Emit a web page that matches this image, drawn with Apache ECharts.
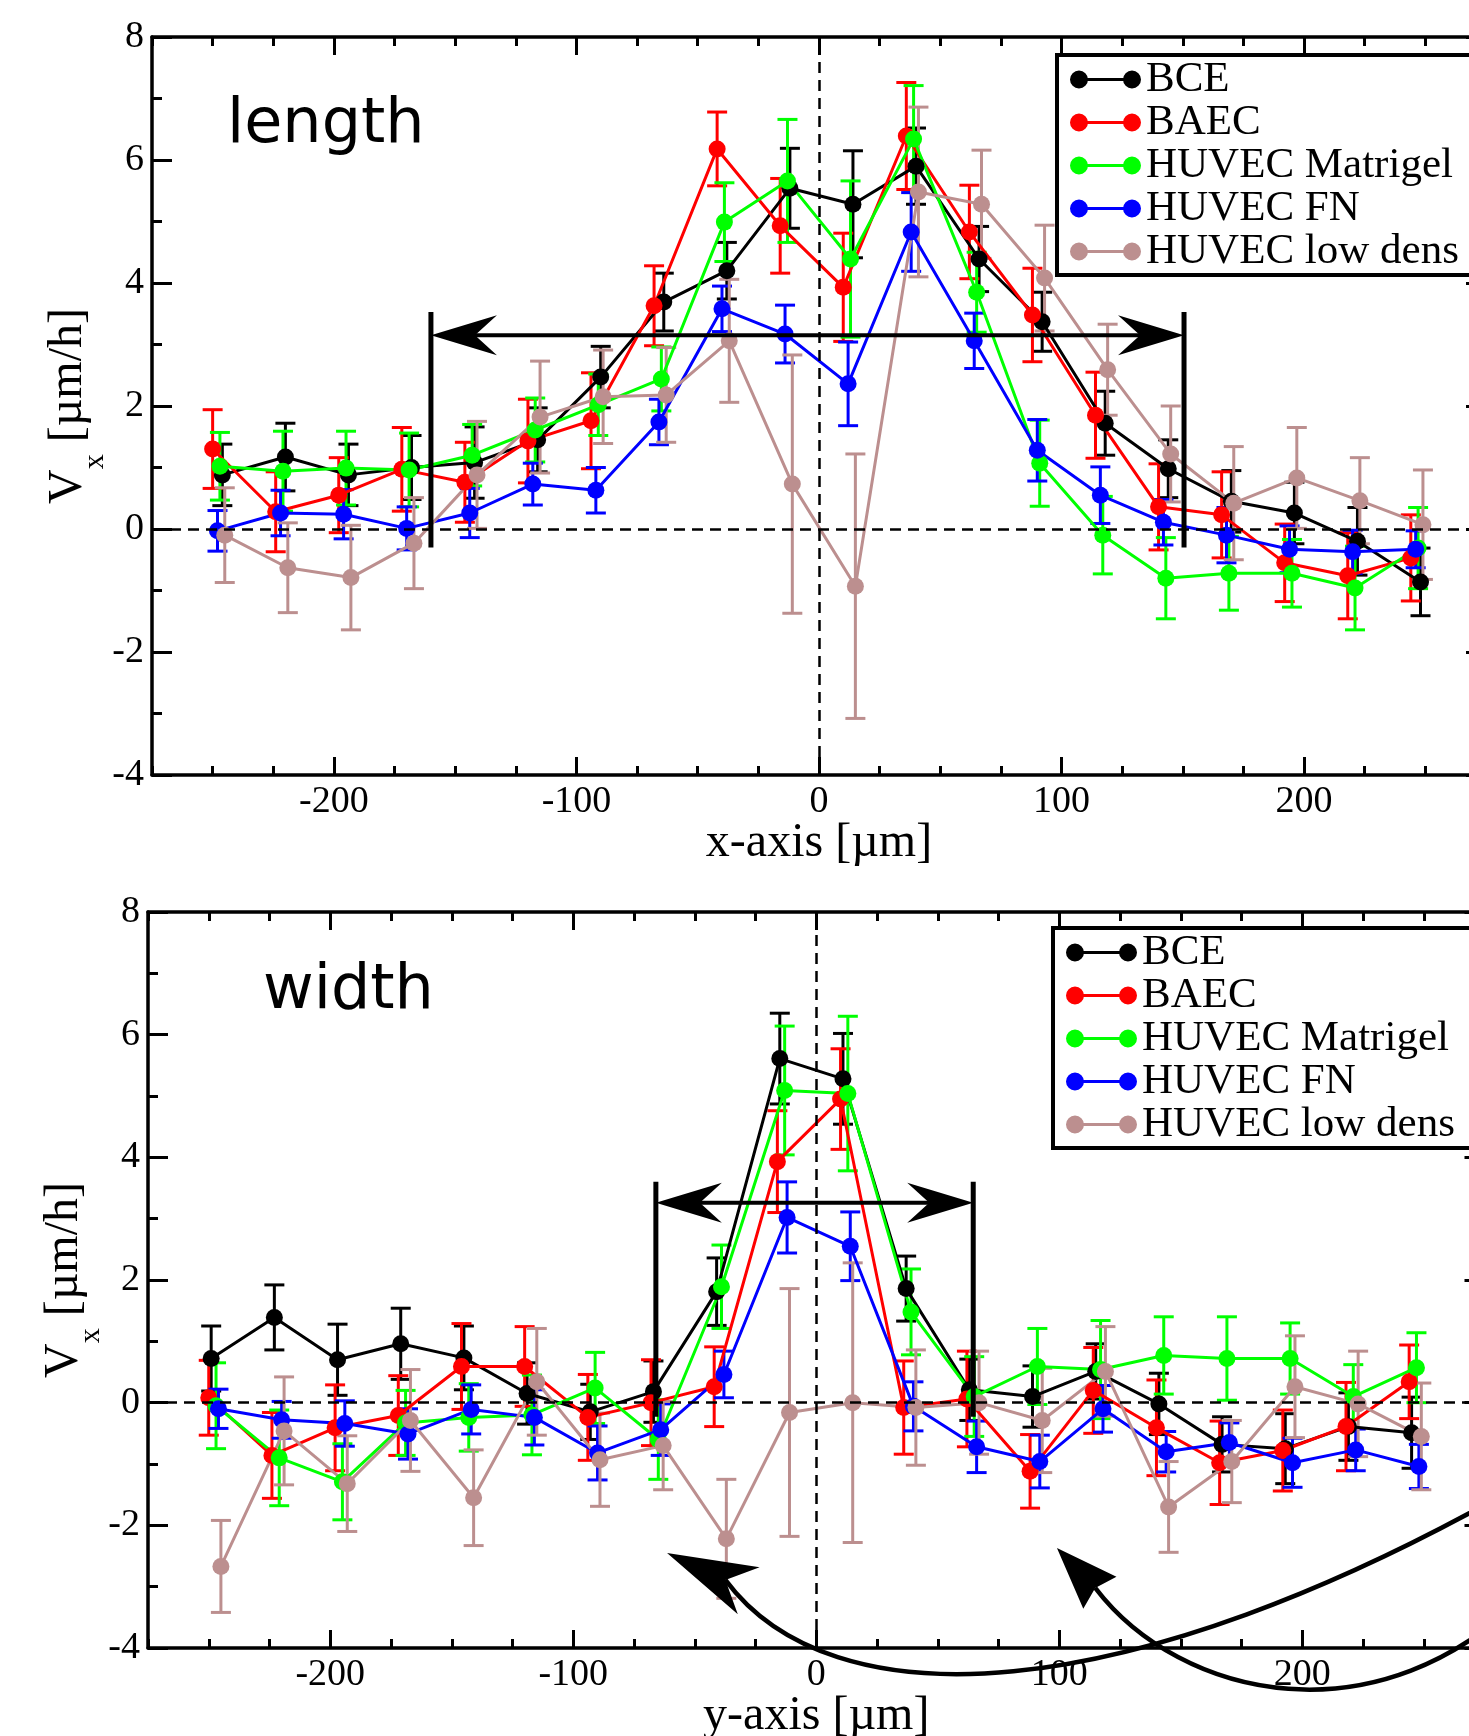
<!DOCTYPE html>
<html>
<head>
<meta charset="utf-8">
<script src="https://cdn.jsdelivr.net/npm/echarts@6/dist/echarts.min.js"></script>
<style>
  html, body { margin: 0; padding: 0; background: #fff; }
  #lengthChart { position: absolute; left: 0; top: 0; width: 1469px; height: 868px; }
  #widthChart { position: absolute; left: 0; top: 868px; width: 1469px; height: 868px; }
</style>
</head>
<body>
<div id="lengthChart"></div>
<div id="widthChart"></div>
<script>
var seriesNames = ['BCE', 'BAEC', 'HUVEC Matrigel', 'HUVEC FN', 'HUVEC low dens'];
var seriesColors = ['#000000', '#ff0000', '#00ff00', '#0000ff', '#bc8f8f'];
var binCenters = [-247, -221, -195, -169, -143, -117, -91, -65, -39, -13, 13, 39, 65, 91, 117, 143, 169, 195, 221, 247];
var xTickValues = [-200, -100, 0, 100, 200];

// small horizontal offset of each data set (BCE, BAEC, Matrigel, FN, low dens)
var lengthShift = [1, -3, 0, -1, 2];
var widthShift = [-2, -3, 0, 1, 2];

// length (x-axis) panel
var lengthBCE = [0.88, 1.17, 0.88, 1.00, 1.08, 1.45, 2.47, 3.69, 4.20, 5.54, 5.28, 5.90, 4.39, 3.37, 1.72, 0.98, 0.45, 0.26, -0.20, -0.86];
var lengthBCEErr = [0.50, 0.55, 0.50, 0.52, 0.58, 0.52, 0.50, 0.47, 0.46, 0.65, 0.87, 0.62, 0.53, 0.48, 0.52, 0.47, 0.50, 0.50, 0.55, 0.55];
var lengthBAEC = [1.30, 0.28, 0.55, 0.97, 0.76, 1.43, 1.76, 3.63, 6.18, 4.93, 3.93, 6.39, 4.83, 3.48, 1.85, 0.36, 0.23, -0.55, -0.76, -0.47];
var lengthBAECErr = [0.64, 0.65, 0.61, 0.68, 0.65, 0.68, 0.78, 0.65, 0.60, 0.77, 0.88, 0.87, 0.76, 0.76, 0.70, 0.70, 0.70, 0.63, 0.70, 0.70];
var lengthMatrigel = [1.02, 0.94, 0.99, 0.96, 1.20, 1.61, 2.02, 2.44, 4.99, 5.66, 4.39, 6.34, 3.85, 1.07, -0.10, -0.80, -0.72, -0.72, -0.96, -0.31];
var lengthMatrigelErr = [0.55, 0.65, 0.60, 0.60, 0.50, 0.52, 0.50, 0.52, 0.64, 1.00, 1.27, 0.87, 0.65, 0.70, 0.63, 0.66, 0.60, 0.55, 0.68, 0.66];
var lengthFN = [-0.03, 0.26, 0.24, 0.01, 0.26, 0.73, 0.63, 1.74, 3.58, 3.17, 2.36, 4.83, 3.06, 1.28, 0.55, 0.11, -0.10, -0.33, -0.37, -0.33];
var lengthFNErr = [0.33, 0.37, 0.40, 0.35, 0.40, 0.34, 0.37, 0.37, 0.37, 0.47, 0.68, 0.64, 0.45, 0.50, 0.46, 0.37, 0.45, 0.38, 0.35, 0.30];
var lengthLow = [-0.10, -0.63, -0.79, -0.23, 0.88, 1.82, 2.15, 2.18, 3.06, 0.73, -0.93, 5.48, 5.28, 4.08, 2.59, 1.22, 0.42, 0.83, 0.46, 0.07];
var lengthLowErr = [0.77, 0.73, 0.85, 0.74, 0.87, 0.91, 0.76, 0.77, 1.00, 2.10, 2.15, 1.38, 0.88, 0.86, 0.74, 0.78, 0.92, 0.82, 0.70, 0.89];

// width (y-axis) panel
var widthBCE = [0.72, 1.39, 0.70, 0.96, 0.73, 0.15, -0.15, 0.18, 1.81, 5.61, 5.28, 1.86, 0.21, 0.10, 0.51, -0.02, -0.68, -0.75, -0.39, -0.49];
var widthBCEErr = [0.53, 0.53, 0.58, 0.58, 0.52, 0.50, 0.45, 0.50, 0.55, 0.74, 0.74, 0.53, 0.50, 0.50, 0.45, 0.50, 0.45, 0.57, 0.55, 0.58];
var widthBAEC = [0.08, -0.86, -0.41, -0.21, 0.59, 0.59, -0.24, 0.00, 0.26, 3.93, 4.95, -0.08, 0.06, -1.12, 0.20, -0.41, -0.98, -0.78, -0.39, 0.34];
var widthBAECErr = [0.61, 0.70, 0.70, 0.65, 0.70, 0.65, 0.70, 0.70, 0.65, 0.83, 0.82, 0.76, 0.78, 0.60, 0.70, 0.78, 0.68, 0.66, 0.72, 0.60];
var widthMatrigel = [-0.05, -0.90, -1.29, -0.33, -0.24, -0.20, 0.24, -0.60, 1.89, 5.09, 5.04, 1.48, 0.10, 0.59, 0.54, 0.77, 0.72, 0.72, 0.10, 0.57];
var widthMatrigelErr = [0.70, 0.78, 0.62, 0.53, 0.55, 0.65, 0.58, 0.65, 0.68, 1.05, 1.26, 0.70, 0.65, 0.62, 0.80, 0.63, 0.68, 0.58, 0.52, 0.57];
var widthFN = [-0.10, -0.28, -0.34, -0.51, -0.11, -0.24, -0.82, -0.44, 0.46, 3.02, 2.55, -0.06, -0.72, -0.96, -0.10, -0.80, -0.65, -0.98, -0.77, -1.04];
var widthFNErr = [0.32, 0.30, 0.37, 0.41, 0.40, 0.45, 0.44, 0.42, 0.38, 0.58, 0.56, 0.40, 0.42, 0.43, 0.38, 0.33, 0.32, 0.40, 0.34, 0.36];
var widthLow = [-2.67, -0.46, -1.32, -0.29, -1.55, 0.34, -0.93, -0.70, -2.22, -0.16, 0.00, -0.08, 0.00, -0.29, 0.51, -1.70, -0.96, 0.26, -0.02, -0.55];
var widthLowErr = [0.75, 0.88, 0.78, 0.83, 0.78, 0.87, 0.76, 0.72, 0.97, 2.02, 2.28, 0.94, 0.84, 0.85, 0.73, 0.74, 0.67, 0.83, 0.86, 0.87];

var serif = 'Liberation Serif';
var legendIcon = 'path://M0,9A9,9,0,1,1,18,9A9,9,0,1,1,0,9ZM17,7.6L54,7.6L54,10.4L17,10.4ZM53,9A9,9,0,1,1,71,9A9,9,0,1,1,53,9Z';

function errorBarItem(params, api) {
  var x = api.value(0);
  var top = api.coord([x, api.value(2)]);
  var bottom = api.coord([x, api.value(1)]);
  var cap = 10;
  var style = { stroke: api.visual('color'), lineWidth: 3 };
  return {
    type: 'group',
    children: [
      { type: 'line', shape: { x1: top[0], y1: top[1], x2: bottom[0], y2: bottom[1] }, style: style },
      { type: 'line', shape: { x1: top[0] - cap, y1: top[1], x2: top[0] + cap, y2: top[1] }, style: style },
      { type: 'line', shape: { x1: bottom[0] - cap, y1: bottom[1], x2: bottom[0] + cap, y2: bottom[1] }, style: style }
    ]
  };
}

function xAxes(name) {
  var line = { show: true, onZero: false, lineStyle: { color: '#000', width: 3.5 } };
  var tickStyle = { color: '#000', width: 3 };
  var major = { type: 'value', min: -275, max: 275, splitLine: { show: false }, axisLine: line,
    axisTick: { show: true, inside: true, length: 18, customValues: xTickValues, lineStyle: tickStyle } };
  var minor = { type: 'value', min: -275, max: 275, interval: 25, splitLine: { show: false },
    axisLine: { show: false, onZero: false }, axisLabel: { show: false },
    axisTick: { show: true, inside: true, length: 9, lineStyle: tickStyle } };
  return [
    Object.assign({}, major, {
      position: 'bottom', name: name, nameLocation: 'middle', nameGap: 44, nameMoveOverlap: false,
      nameTextStyle: { fontFamily: serif, fontSize: 48, color: '#000' },
      axisLabel: { show: true, customValues: xTickValues, margin: 8, fontFamily: serif, fontSize: 38, color: '#000' }
    }),
    Object.assign({}, minor, { position: 'bottom' }),
    Object.assign({}, major, { position: 'top', axisLabel: { show: false } }),
    Object.assign({}, minor, { position: 'top' })
  ];
}

function yAxes() {
  var base = {
    type: 'value', min: -4, max: 8, interval: 2, splitLine: { show: false },
    axisLine: { show: true, onZero: false, lineStyle: { color: '#000', width: 3.5 } },
    axisTick: { show: true, inside: true, length: 20, lineStyle: { color: '#000', width: 3 } },
    minorTick: { show: true, splitNumber: 2, length: 10, lineStyle: { color: '#000', width: 3 } }
  };
  return [
    Object.assign({}, base, {
      position: 'left', name: '{v|V}{s|x} [µm/h]', nameLocation: 'middle', nameRotate: 90,
      nameGap: 42, nameMoveOverlap: false,
      nameTextStyle: {
        fontFamily: serif, fontSize: 48, color: '#000',
        rich: {
          v: { fontFamily: serif, fontSize: 48, color: '#000' },
          s: { fontFamily: serif, fontSize: 30, color: '#000', padding: [53, 0, 0, 0] }
        }
      },
      axisLabel: { margin: 8, padding: [8, 0, 0, 0], fontFamily: serif, fontSize: 38, color: '#000' }
    }),
    Object.assign({}, base, { position: 'right', axisLabel: { show: false } })
  ];
}

function buildOption(cfg) {
  var series = [{
    name: 'zero lines', type: 'line', data: [], silent: true, z: 1,
    markLine: {
      silent: true, symbol: ['none', 'none'], label: { show: false }, animation: false,
      lineStyle: { color: '#000', width: 2.5, type: [11, 7] },
      data: [{ yAxis: 0 }, { xAxis: 0 }]
    }
  }];
  seriesNames.forEach(function (name, i) {
    var vals = cfg.values[i], errs = cfg.errors[i];
    var xs = binCenters.map(function (b) { return b + cfg.shift[i]; });
    series.push({
      name: name + ' error', type: 'custom', renderItem: errorBarItem, silent: true, z: 2,
      itemStyle: { color: seriesColors[i] }, encode: { x: 0, y: [1, 2] },
      data: xs.map(function (x, k) { return [x, vals[k] - errs[k], vals[k] + errs[k]]; })
    });
    series.push({
      name: name, type: 'line', z: 2, silent: true, symbol: 'circle', symbolSize: 17,
      lineStyle: { color: seriesColors[i], width: 3 }, itemStyle: { color: seriesColors[i] },
      data: xs.map(function (x, k) { return [x, vals[k]]; })
    });
  });
  return {
    animation: false,
    backgroundColor: '#fff',
    title: {
      text: cfg.label, left: cfg.labelLeft, top: cfg.labelTop, padding: 0,
      textStyle: { fontFamily: 'DejaVu Sans', fontSize: 62, fontWeight: 'normal', color: '#000' }
    },
    legend: {
      data: seriesNames, orient: 'vertical', left: cfg.legendLeft, top: cfg.legendTop,
      padding: [3, 40, 2, 13], itemGap: 0, itemWidth: 71, itemHeight: 18, icon: legendIcon,
      itemStyle: { borderWidth: 0 }, selectedMode: false,
      backgroundColor: '#fff', borderColor: '#000', borderWidth: 4,
      textStyle: { fontFamily: serif, fontSize: 43, lineHeight: 42, color: '#000' }
    },
    grid: Object.assign({ outerBoundsMode: 'none', containLabel: false }, cfg.grid),
    xAxis: xAxes(cfg.xName),
    yAxis: yAxes(),
    series: series
  };
}

// arrowhead polygon: tip point, unit direction pointing back along the shaft
function arrowHead(tip, dir, len, half, notch) {
  var nx = -dir[1], ny = dir[0];
  return [
    tip,
    [tip[0] + dir[0] * len + nx * half, tip[1] + dir[1] * len + ny * half],
    [tip[0] + dir[0] * notch, tip[1] + dir[1] * notch],
    [tip[0] + dir[0] * len - nx * half, tip[1] + dir[1] * len - ny * half]
  ];
}

function annotations(chart, span, curves) {
  var px = function (p) { return chart.convertToPixel({ gridIndex: 0 }, p); };
  var els = [];
  var stroke = { stroke: '#000', lineWidth: 5 };
  span.x.forEach(function (x) {
    var a = px([x, span.bar[0]]), b = px([x, span.bar[1]]);
    els.push({ type: 'line', z: 100, shape: { x1: a[0], y1: a[1], x2: b[0], y2: b[1] }, style: stroke });
  });
  var left = px([span.x[0], span.y]), right = px([span.x[1], span.y]);
  els.push({ type: 'line', z: 100, shape: { x1: left[0] + 40, y1: left[1], x2: right[0] - 40, y2: right[1] },
    style: { stroke: '#000', lineWidth: 4 } });
  els.push({ type: 'polygon', z: 100, shape: { points: arrowHead(left, [1, 0], 66, 20, 44) }, style: { fill: '#000' } });
  els.push({ type: 'polygon', z: 100, shape: { points: arrowHead(right, [-1, 0], 66, 20, 44) }, style: { fill: '#000' } });
  (curves || []).forEach(function (c) {
    var p0 = px(c.from), p1 = px(c.c1), p2 = px(c.c2), p3 = px(c.to), tip = px(c.tip);
    var dx = p0[0] - tip[0], dy = p0[1] - tip[1], d = Math.sqrt(dx * dx + dy * dy);
    els.push({ type: 'bezierCurve', z: 100,
      shape: { x1: p0[0], y1: p0[1], cpx1: p1[0], cpy1: p1[1], cpx2: p2[0], cpy2: p2[1], x2: p3[0], y2: p3[1] },
      style: { stroke: '#000', lineWidth: 4.5, fill: null } });
    els.push({ type: 'polygon', z: 100, shape: { points: arrowHead(tip, [dx / d, dy / d], c.len, c.half, d) },
      style: { fill: '#000' } });
  });
  chart.setOption({ graphic: els });
}

var lengthChart = echarts.init(document.getElementById('lengthChart'));
lengthChart.setOption(buildOption({
  label: 'length', labelLeft: 227, labelTop: 95, legendLeft: 1057, legendTop: 55,
  grid: { left: 152, top: 37, right: -17, bottom: 93 },
  xName: 'x-axis [µm]', shift: lengthShift,
  values: [lengthBCE, lengthBAEC, lengthMatrigel, lengthFN, lengthLow],
  errors: [lengthBCEErr, lengthBAECErr, lengthMatrigelErr, lengthFNErr, lengthLowErr]
}));
annotations(lengthChart, { x: [-160, 150.5], y: 3.15, bar: [-0.3, 3.53] });

var widthChart = echarts.init(document.getElementById('widthChart'));
widthChart.setOption(buildOption({
  label: 'width', labelLeft: 263, labelTop: 93, legendLeft: 1053, legendTop: 60,
  grid: { left: 148, top: 44, right: -15.5, bottom: 88 },
  xName: 'y-axis [µm]', shift: widthShift,
  values: [widthBCE, widthBAEC, widthMatrigel, widthFN, widthLow],
  errors: [widthBCEErr, widthBAECErr, widthMatrigelErr, widthFNErr, widthLowErr]
}));
annotations(widthChart, { x: [-66, 64.6], y: 3.26, bar: [-0.23, 3.6] }, [
  { from: [-37.4, -2.89], c1: [5.8, -5.2], c2: [125.1, -5.1], to: [293.8, -1.25], tip: [-61.4, -2.45], len: 90, half: 26 },
  { from: [114.8, -3.02], c1: [149.8, -4.84], c2: [232.1, -5.58], to: [293.8, -3.05], tip: [99.05, -2.37], len: 62, half: 23 }
]);
</script>
</body>
</html>
